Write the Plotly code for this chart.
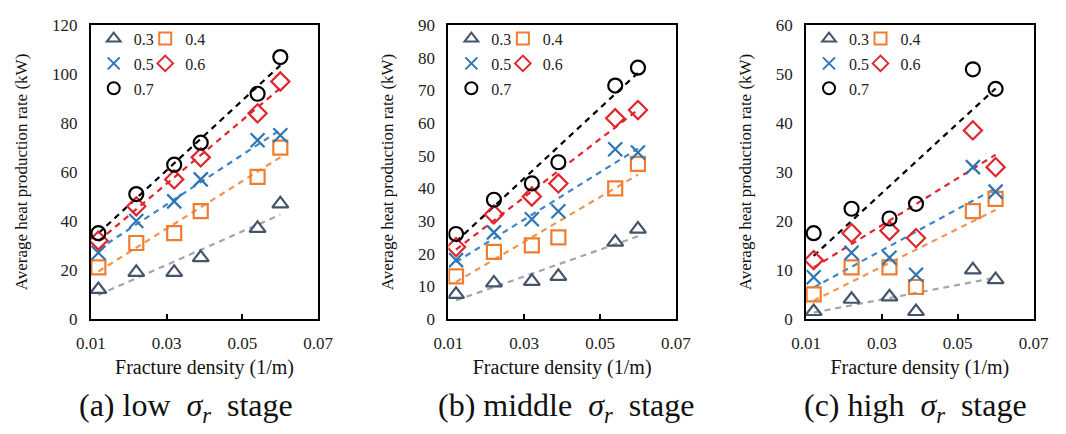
import numpy as np
import plotly.graph_objects as go

# Fracture density values (1/m) shared by all three stages
fracture_density = [0.012, 0.022, 0.032, 0.039, 0.054, 0.060]

# Ratio labels for each series
ratios = ["0.3", "0.4", "0.5", "0.6", "0.7"]

# Average heat production rate (kW), one list per ratio
low_stage = [
    [12, 19, 19, 25, 37, 47],
    [21, 31, 35, 44, 58, 70],
    [27, 40, 48, 57, 73, 75],
    [32, 46, 57, 66, 84, 97],
    [35, 51, 63, 72, 92, 107],
]
middle_stage = [
    [7.5, 11, 11.5, 13, 23.5, 27.5],
    [13, 20.5, 22.5, 25, 40, 47.5],
    [18, 26.5, 30.5, 33, 52, 51],
    [22, 32, 37.5, 41.5, 61.5, 64],
    [26, 36.5, 41.5, 48, 71.5, 77],
]
high_stage = [
    [1.5, 4, 4.5, 1.5, 10, 8],
    [5, 10.5, 10.5, 6.5, 22, 24.5],
    [8.5, 13.5, 12.5, 9, 31, 26],
    [12, 17.5, 18, 16.5, 38.5, 31],
    [17.5, 22.5, 20.5, 23.5, 51, 47],
]

panels = [low_stage, middle_stage, high_stage]
y_ranges = [[0, 120], [0, 90], [0, 60]]
y_dticks = [20, 10, 10]
x_tickvals = [0.01, 0.03, 0.05, 0.07]
x_ticktext = ["0.01", "0.03", "0.05", "0.07"]
captions = ["(a)&nbsp;low&nbsp; <i>σ<sub>r</sub></i>&nbsp; stage",
            "(b)&nbsp;middle&nbsp; <i>σ<sub>r</sub></i>&nbsp; stage",
            "(c)&nbsp;high&nbsp; <i>σ<sub>r</sub></i>&nbsp; stage"]

symbols = ["triangle-up-open", "square-open", "x-thin-open", "diamond-open", "circle-open"]
marker_colors = ["#44546A", "#ED7D31", "#2E75B6", "#E0262C", "#000000"]
trend_colors = ["#A5A5A5", "#F0944F", "#3C86C8", "#E0262C", "#000000"]

W, H = 1066, 434
# plot area pixel boxes (left, right) per panel, shared top/bottom
x_boxes = [(78, 312), (446, 680), (814, 1048)]
top_px, bottom_px = 17, 324

SERIF = "'Times New Roman', 'Liberation Serif', 'DejaVu Serif', serif"

fig = go.Figure()

for p, data in enumerate(panels):
    xa = "x" if p == 0 else f"x{p + 1}"
    ya = "y" if p == 0 else f"y{p + 1}"
    xs = np.array(fracture_density)
    # dashed linear trendlines
    for i, vals in enumerate(data):
        k, b = np.polyfit(xs, np.array(vals), 1)
        xt = np.array([xs.min(), xs.max()])
        fig.add_trace(go.Scatter(
            x=xt, y=k * xt + b, mode="lines", xaxis=xa, yaxis=ya,
            line=dict(color=trend_colors[i], width=2.2, dash="6px,5px"),
            showlegend=False, hoverinfo="skip"))
    # markers, each with its own legend entry box
    for i, vals in enumerate(data):
        leg_idx = p * 5 + i + 1
        leg_name = "legend" if leg_idx == 1 else f"legend{leg_idx}"
        fig.add_trace(go.Scatter(
            x=fracture_density, y=vals, mode="markers", xaxis=xa, yaxis=ya,
            name=ratios[i], legend=leg_name,
            marker=dict(symbol=symbols[i], size=14, color=marker_colors[i],
                        line=dict(width=2.2, color=marker_colors[i]))))

layout = dict(
    width=W, height=H, margin=dict(l=0, r=0, t=0, b=0),
    paper_bgcolor="white", plot_bgcolor="white",
    font=dict(family=SERIF, size=15, color="#222222"),
    showlegend=True,
)

y0 = 1 - bottom_px / H
y1 = 1 - top_px / H
# legend grid: two columns, three rows (0.3 0.4 / 0.5 0.6 / 0.7)
# values are symbol centres measured from each panel's left axis
legend_col_px = [23, 76]
legend_row_px = [31, 57, 83]
legend_cell = [(0, 0), (1, 0), (0, 1), (1, 1), (0, 2)]
SYMBOL_OFFSET = 20

for p in range(3):
    sfx = "" if p == 0 else str(p + 1)
    l, r = x_boxes[p]
    layout["xaxis" + sfx] = dict(
        domain=[l / W, r / W], range=[0.01, 0.07], anchor="y" + sfx,
        tickvals=x_tickvals, ticktext=x_ticktext,
        ticks="inside", ticklen=5, tickwidth=2, tickcolor="black",
        ticklabelstandoff=8,
        showline=True, linecolor="black", linewidth=2, mirror=True,
        showgrid=False, zeroline=False,
        tickfont=dict(family=SERIF, size=17, color="#222222"),
        title=dict(text="Fracture density (1/m)", standoff=8,
                   font=dict(family=SERIF, size=20, color="#111111")))
    layout["yaxis" + sfx] = dict(
        domain=[y0, y1], range=y_ranges[p], dtick=y_dticks[p], anchor="x" + sfx,
        ticks="", showline=True, linecolor="black", linewidth=2, mirror=True,
        ticklabelstandoff=8,
        showgrid=False, zeroline=False,
        tickfont=dict(family=SERIF, size=17, color="#222222"),
        title=dict(text="Average heat production rate (kW)", standoff=20,
                   font=dict(family=SERIF, size=17, color="#111111")))
    for i in range(5):
        idx = p * 5 + i + 1
        name = "legend" if idx == 1 else f"legend{idx}"
        col, row = legend_cell[i]
        layout[name] = dict(
            orientation="h",
            x=(l + legend_col_px[col] - SYMBOL_OFFSET) / W, xanchor="left",
            y=1 - legend_row_px[row] / H, yanchor="middle",
            bgcolor="rgba(0,0,0,0)", itemwidth=30,
            itemsizing="constant",
            font=dict(family=SERIF, size=16, color="#222222"))

fig.update_layout(**layout)

caption_x_px = [176, 567, 927]
for p in range(3):
    fig.add_annotation(
        text=captions[p], x=caption_x_px[p] / W, y=1 - 417 / H,
        xref="paper", yref="paper", showarrow=False,
        xanchor="center", yanchor="middle",
        font=dict(family=SERIF, size=32, color="#111111"))

fig.write_html("out.html")
